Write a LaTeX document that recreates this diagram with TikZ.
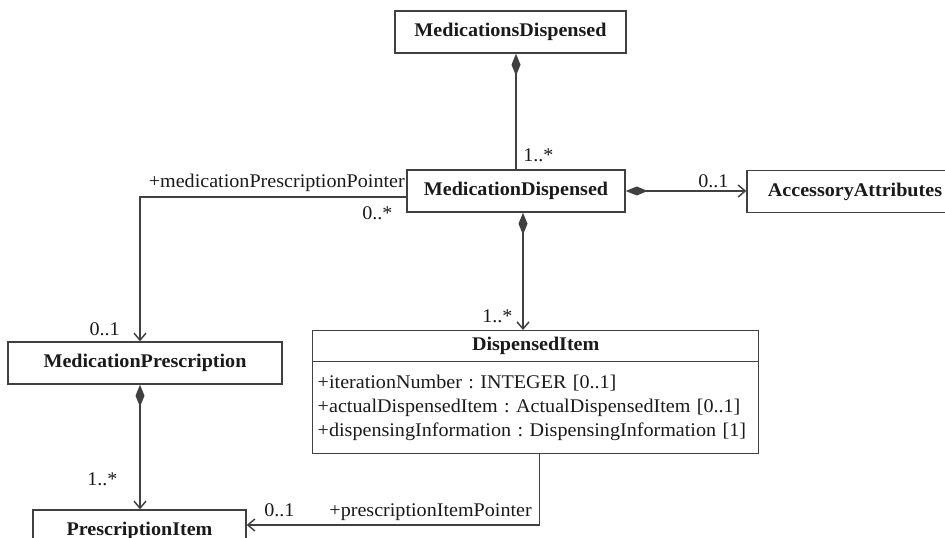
\documentclass[tikz,border=0pt]{standalone}
\usepackage{fontspec}
\setmainfont{Liberation Serif}[FakeStretch=1.04]
\usepackage{xcolor}
\usetikzlibrary{arrows.meta}

\definecolor{linegray}{HTML}{404040}
\definecolor{txtgray}{HTML}{1A1A1A}
\newcommand{\pxu}{*0.75pt}

\tikzset{
    openhead/.tip={Straight Barb[length=7\pxu, width=12\pxu]},
    fulldiamond/.tip={Diamond[length=22\pxu, width=9\pxu]},
    umlclass/.style={draw=linegray, line width=1.1pt, text=txtgray, font=\bfseries,
        minimum height=42\pxu, inner sep=0pt},
    attrbox/.style={draw=linegray, line width=1.1pt, text=txtgray, align=left,
        text width=436\pxu, inner xsep=5\pxu, inner ysep=0pt, minimum height=92\pxu},
    mult/.style={inner sep=0pt, text=txtgray},
    nav/.style={draw=linegray, line width=1.1pt, -{openhead}},
    comp/.style={draw=linegray, line width=1.1pt, {fulldiamond}-},
    compnav/.style={draw=linegray, line width=1.1pt, {fulldiamond}-{openhead}},
}

\begin{document}
\frenchspacing
\fontsize{14.5pt}{18pt}\selectfont
\begin{tikzpicture}[x=0.75pt, y=-0.75pt]
    \useasboundingbox (0,0) rectangle (945,538);
    \clip (0,0) rectangle (945,538);
    % class boxes with absolute coordinates
    \node[umlclass, minimum width=231\pxu] (msd) at (510.5,32) {MedicationsDispensed};
    \node[umlclass, minimum width=218\pxu] (md) at (516,191) {MedicationDispensed};
    \node[umlclass, minimum width=216\pxu] (acc) at (855,191.5) {AccessoryAttributes};
    \node[umlclass, minimum width=274\pxu] (mp) at (145,363) {MedicationPrescription};
    \node[umlclass, minimum width=213\pxu] (pi) at (139.5,531) {PrescriptionItem};
    \node[umlclass, minimum width=446\pxu, minimum height=31\pxu, anchor=north west] (di) at (312,330) {DispensedItem};
    \node[attrbox, anchor=north west] (dia) at (312,361) {%
        +iterationNumber : INTEGER [0..1]\\
        +actualDispensedItem : ActualDispensedItem [0..1]\\
        +dispensingInformation : DispensingInformation [1]};
    % associations
    \draw[comp] (md.north |- msd.south) -- (md.north);
    \draw[compnav] (md.east) -- (md.east -| acc.west);
    \draw[compnav] ([xshift=7\pxu]md.south) -- ([xshift=7\pxu]md.south |- di.north);
    \draw[nav] ([yshift=-6\pxu]md.west) -| ([xshift=-5\pxu]mp.north);
    \draw[compnav] ([xshift=-5\pxu]mp.south) -- ([xshift=-5\pxu]mp.south |- pi.north);
    \draw[nav] ([xshift=4\pxu]dia.south) |- ([yshift=6\pxu]pi.east);
    % role names and multiplicities
    \node[mult, anchor=base west] (m1) at (523,162) {1..*};
    \node[mult, anchor=base west] (m2) at (698,188) {0..1};
    \node[mult, anchor=base west] (m3) at (482,322) {1..*};
    \node[mult, anchor=base east] (r1) at (405,188) {+medicationPrescriptionPointer};
    \node[mult, anchor=base west] (m4) at (362,220) {0..*};
    \node[mult, anchor=base east] (m5) at (120,335) {0..1};
    \node[mult, anchor=base west] (m6) at (87,485) {1..*};
    \node[mult, anchor=base west] (m7) at (264,516) {0..1};
    \node[mult, anchor=base east] (r2) at (532,516) {+prescriptionItemPointer};
\end{tikzpicture}
\end{document}
